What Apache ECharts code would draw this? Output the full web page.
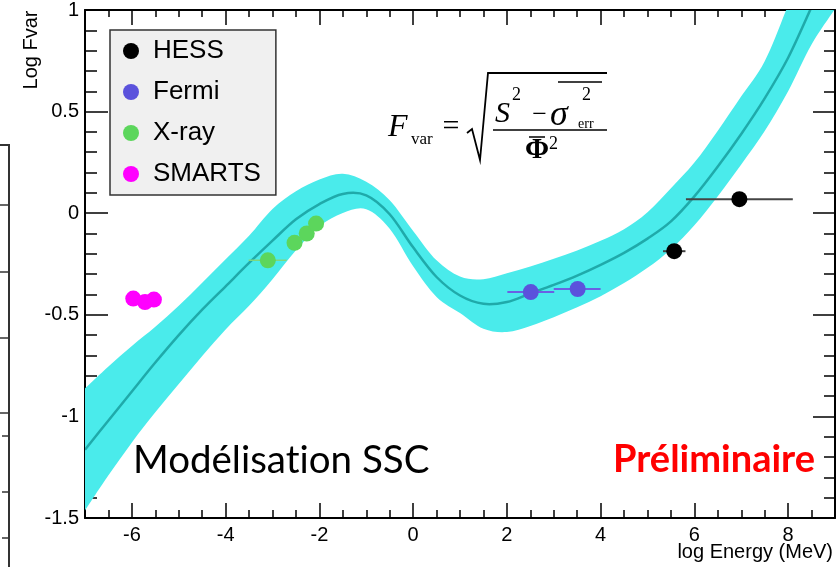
<!DOCTYPE html>
<html>
<head>
<meta charset="utf-8">
<script src="https://cdn.jsdelivr.net/npm/echarts@6/dist/echarts.min.js"></script>
<style>
  html, body { margin: 0; padding: 0; background: #fff; }
  #chart { width: 837px; height: 567px; }
</style>
</head>
<body>
<div id="chart"></div>
<script>
// SSC model band: log Energy (MeV) sampling, lower / upper envelope and central curve (log Fvar)
const bandX    = [-7, -6.5, -6, -5.5, -5, -4.5, -4, -3.5, -3, -2.5, -2, -1.5, -1, -0.5, 0, 0.5, 1, 1.5, 2, 2.5, 3, 3.5, 4, 4.5, 5, 5.5, 6, 6.5, 7, 7.5, 8, 8.5, 9];
const bandLow  = [-1.463, -1.290, -1.128, -0.980, -0.841, -0.703, -0.572, -0.456, -0.325, -0.182, -0.065, 0.001, 0.020, -0.076, -0.261, -0.412, -0.491, -0.569, -0.585, -0.555, -0.512, -0.463, -0.409, -0.344, -0.269, -0.177, -0.059, 0.084, 0.240, 0.404, 0.600, 0.830, 1.005];
const bandHigh = [-0.862, -0.754, -0.653, -0.559, -0.455, -0.342, -0.227, -0.111, 0.021, 0.108, 0.166, 0.194, 0.155, 0.064, -0.087, -0.232, -0.312, -0.325, -0.296, -0.262, -0.224, -0.183, -0.136, -0.079, 0.005, 0.123, 0.249, 0.406, 0.575, 0.748, 1.025, 1.33, 1.65];
const modelX   = [-7, -6.5, -6, -5.5, -5, -4.5, -4, -3.5, -3, -2.5, -2, -1.5, -1, -0.5, 0, 0.5, 1, 1.5, 2, 2.5, 3, 3.5, 4, 4.5, 5, 5.5, 6, 6.5, 7, 7.5, 8, 8.5];
const modelY   = [-1.164, -1.020, -0.877, -0.735, -0.600, -0.475, -0.360, -0.245, -0.135, -0.030, 0.045, 0.095, 0.088, -0.005, -0.168, -0.314, -0.405, -0.446, -0.437, -0.395, -0.353, -0.307, -0.254, -0.195, -0.125, -0.040, 0.083, 0.230, 0.390, 0.565, 0.765, 1.015];

// Measured variability per instrument: energy, log Fvar, energy bin edges
const hessE   = [5.57, 6.96];
const hessF   = [-0.187, 0.069];
const hessLo  = [5.33, 5.82];
const hessHi  = [5.81, 8.10];

const fermiE  = [2.51, 3.51];
const fermiF  = [-0.388, -0.373];
const fermiLo = [2.01, 3.00];
const fermiHi = [3.01, 4.00];

const xrayE   = [-3.10, -2.53, -2.27, -2.07];
const xrayF   = [-0.232, -0.146, -0.100, -0.051];
const xrayLo  = [-3.51, -2.53, -2.27, -2.07];
const xrayHi  = [-2.70, -2.53, -2.27, -2.07];

const smartsE = [-5.97, -5.72, -5.53];
const smartsF = [-0.420, -0.437, -0.425];

// Axis ranges and ticks
const xRange = [-7, 9];
const yRange = [-1.5, 1];
const yStep = 0.5;

const sans = 'Liberation Sans, Arial, Helvetica, sans-serif';
const serif = 'Liberation Serif, Times New Roman, Times, serif';
const display = 'Lato, Noto Sans, sans-serif';

const pairs = (xs, ys) => xs.map((x, i) => [x, ys[i]]);
const bars = (lo, hi, ys) => lo.map((l, i) => [l, hi[i], ys[i]]);

// Smooth cubic segments through pixel points (Catmull-Rom as Bezier)
function curveSegments(pts) {
  const n = pts.length;
  const f = v => v.toFixed(2);
  let d = '';
  for (let i = 0; i < n - 1; i++) {
    const p0 = pts[Math.max(i - 1, 0)], p1 = pts[i], p2 = pts[i + 1], p3 = pts[Math.min(i + 2, n - 1)];
    const c1 = [p1[0] + (p2[0] - p0[0]) / 6, p1[1] + (p2[1] - p0[1]) / 6];
    const c2 = [p2[0] - (p3[0] - p1[0]) / 6, p2[1] - (p3[1] - p1[1]) / 6];
    d += ' C' + f(c1[0]) + ' ' + f(c1[1]) + ' ' + f(c2[0]) + ' ' + f(c2[1]) + ' ' + f(p2[0]) + ' ' + f(p2[1]);
  }
  return d;
}

function clipRect(params) {
  const cs = params.coordSys;
  return { type: 'rect', shape: { x: cs.x, y: cs.y, width: cs.width, height: cs.height } };
}

function bandSeries() {
  return {
    type: 'custom', name: 'band', silent: true, clip: true, z: 1,
    data: bandX.map((x, i) => [x, bandLow[i], bandHigh[i]]),
    encode: { x: 0, y: [1, 2] },
    renderItem: function (params, api) {
      if (params.dataIndex !== 0) return null;
      const up = bandX.map((x, i) => api.coord([x, bandHigh[i]]));
      const lo = bandX.map((x, i) => api.coord([x, bandLow[i]])).reverse();
      const d = 'M' + up[0][0].toFixed(2) + ' ' + up[0][1].toFixed(2) + curveSegments(up) +
                ' L' + lo[0][0].toFixed(2) + ' ' + lo[0][1].toFixed(2) + curveSegments(lo) + ' Z';
      return {
        type: 'path', shape: { pathData: d },
        clipPath: clipRect(params),
        style: { fill: '#4aebeb', stroke: null }
      };
    }
  };
}

function modelSeries() {
  return {
    type: 'custom', name: 'model', silent: true, clip: true, z: 2,
    data: pairs(modelX, modelY),
    encode: { x: 0, y: 1 },
    renderItem: function (params, api) {
      if (params.dataIndex !== 0) return null;
      const pts = modelX.map((x, i) => api.coord([x, modelY[i]]));
      const d = 'M' + pts[0][0].toFixed(2) + ' ' + pts[0][1].toFixed(2) + curveSegments(pts);
      return {
        type: 'path', shape: { pathData: d },
        clipPath: clipRect(params),
        style: { fill: null, stroke: '#1faaaa', lineWidth: 2.5 }
      };
    }
  };
}

function errorBarSeries(name, data, color, width) {
  return {
    type: 'custom',
    name: name + ' bins',
    silent: true,
    z: 3,
    encode: { x: [0, 1], y: 2 },
    data: data,
    renderItem: function (params, api) {
      const a = api.coord([api.value(0), api.value(2)]);
      const b = api.coord([api.value(1), api.value(2)]);
      return {
        type: 'line',
        shape: { x1: a[0], y1: a[1], x2: b[0], y2: b[1] },
        style: { stroke: color, lineWidth: width }
      };
    }
  };
}

function pointSeries(name, data, color) {
  return {
    type: 'scatter',
    name: name,
    data: data,
    symbol: 'circle',
    symbolSize: 16,
    z: 5,
    itemStyle: { color: color, opacity: 1 }
  };
}

function xAxisDef(pos, showLabel, majorLen, minorLen) {
  return {
    type: 'value', min: xRange[0], max: xRange[1],
    splitNumber: 8, minInterval: 2, maxInterval: 2,
    position: pos,
    axisLine: { show: true, onZero: false, lineStyle: { color: '#000', width: 2 } },
    axisTick: { show: true, inside: true, length: majorLen, lineStyle: { color: '#000', width: 1.5 } },
    minorTick: { show: true, splitNumber: 4, length: minorLen, lineStyle: { color: '#000', width: 1.5 } },
    axisLabel: { show: showLabel, fontSize: 20, color: '#000', fontFamily: sans, margin: 7,
                 showMinLabel: false, showMaxLabel: false },
    splitLine: { show: false }, minorSplitLine: { show: false }
  };
}

function yAxisDef(pos, showLabel, majorLen, minorLen) {
  return {
    type: 'value', min: yRange[0], max: yRange[1], interval: yStep,
    position: pos,
    axisLine: { show: true, onZero: false, lineStyle: { color: '#000', width: 2 } },
    axisTick: { show: true, inside: true, length: majorLen, lineStyle: { color: '#000', width: 1.5 } },
    minorTick: { show: true, splitNumber: 5, length: minorLen, lineStyle: { color: '#000', width: 1.5 } },
    axisLabel: { show: showLabel, fontSize: 20, color: '#000', fontFamily: sans, margin: 6 },
    splitLine: { show: false }, minorSplitLine: { show: false }
  };
}

// Fvar formula, drawn as text pieces and strokes
function formula() {
  const t = (text, x, y, font, align) => ({
    type: 'text', z: 30,
    style: { text: text, x: x, y: y, font: font, fill: '#000',
             align: align || 'left', verticalAlign: 'middle',
             textAlign: align || 'left', textVerticalAlign: 'middle' }
  });
  const stroke = (pts, w) => ({
    type: 'polyline', z: 30, shape: { points: pts },
    style: { stroke: '#000', lineWidth: w, fill: null }
  });
  return {
    type: 'group',
    children: [
      t('F', 388, 128, 'italic 32px ' + serif),
      t('var', 411, 140, '17px ' + serif),
      t('=', 451, 127, '30px ' + serif, 'center'),
      stroke([[467, 133], [472, 129], [480, 160], [488, 73], [607, 73]], 1.8),
      t('S', 495, 114, 'italic 30px ' + serif),
      t('2', 512, 95, '18px ' + serif),
      t('\u2212', 539.5, 115, '26px ' + serif, 'center'),
      t('\u03c3', 550, 116, 'italic 36px ' + serif),
      stroke([[558, 82], [602, 82]], 1.5),
      t('2', 582, 95, '18px ' + serif),
      t('err', 578, 124, '14px ' + serif),
      stroke([[493, 130], [607, 130]], 1.5),
      t('\u03a6', 537, 151, 'bold 29px ' + serif, 'center'),
      stroke([[529, 137], [545, 137]], 1.5),
      t('2', 549, 144, '18px ' + serif)
    ]
  };
}

// Edge of the neighbouring panel at the far left
function sidePanel() {
  const ticks = [[205, 9], [272, 9], [338, 9], [413, 9], [436, 7], [492, 7], [538, 7]];
  const children = [{
    type: 'polyline', shape: { points: [[0, 145], [9, 145], [9, 567]] },
    style: { stroke: '#333', lineWidth: 2, fill: null }
  }];
  ticks.forEach(([y, len]) => children.push({
    type: 'line', shape: { x1: 9 - len, y1: y, x2: 9, y2: y },
    style: { stroke: '#333', lineWidth: 1.5 }
  }));
  return { type: 'group', children: children };
}

const chart = echarts.init(document.getElementById('chart'), null, { renderer: 'canvas' });

const option = {
  animation: false,
  backgroundColor: '#fff',
  grid: { left: 85, top: 10, right: 2, bottom: 49, containLabel: false, outerBoundsMode: 'none' },
  xAxis: [xAxisDef('bottom', true, 15, 8), xAxisDef('top', false, 15, 7)],
  yAxis: [yAxisDef('left', true, 23, 12), yAxisDef('right', false, 22, 11)],
  legend: {
    data: ['HESS', 'Fermi', 'X-ray', 'SMARTS'],
    orient: 'vertical',
    left: 110, top: 30,
    padding: [8, 15, 8, 13],
    itemGap: 15,
    itemWidth: 16, itemHeight: 16,
    icon: 'circle',
    backgroundColor: '#f0f0f0',
    borderColor: '#333', borderWidth: 1.5,
    selectedMode: false,
    textStyle: { fontSize: 26, fontFamily: sans, color: '#000', padding: [0, 0, 0, 9] }
  },
  series: [
    bandSeries(),
    modelSeries(),
    errorBarSeries('HESS', bars(hessLo, hessHi, hessF), '#444', 2),
    errorBarSeries('Fermi', bars(fermiLo, fermiHi, fermiF), '#6a60e4', 2),
    errorBarSeries('X-ray', bars(xrayLo, xrayHi, xrayF), '#7ed87e', 1.5),
    pointSeries('HESS', pairs(hessE, hessF), '#000000'),
    pointSeries('Fermi', pairs(fermiE, fermiF), '#5b52dc'),
    pointSeries('X-ray', pairs(xrayE, xrayF), '#5cd65c'),
    pointSeries('SMARTS', pairs(smartsE, smartsF), '#ff00ff')
  ],
  graphic: [
    sidePanel(),
    formula(),
    {
      type: 'text', z: 30,
      style: { text: 'Log Fvar', x: 31, y: 50, font: '20px ' + sans, fill: '#000',
               align: 'center', verticalAlign: 'middle', textAlign: 'center', textVerticalAlign: 'middle' },
      rotation: Math.PI / 2, originX: 31, originY: 50
    },
    {
      type: 'text', z: 30,
      style: { text: 'log Energy (MeV)', x: 833, y: 552, font: '20px ' + sans, fill: '#000',
               align: 'right', verticalAlign: 'middle', textAlign: 'right', textVerticalAlign: 'middle' }
    },
    {
      type: 'text', z: 30,
      style: { text: 'Modélisat\u200Cion SSC', x: 133, y: 461, font: '38.5px ' + display, fill: '#000',
               align: 'left', verticalAlign: 'middle', textAlign: 'left', textVerticalAlign: 'middle' }
    },
    {
      type: 'text', z: 30,
      style: { text: 'Préliminaire', x: 815, y: 460, font: 'bold 38px ' + display, fill: '#ff0000',
               align: 'right', verticalAlign: 'middle', textAlign: 'right', textVerticalAlign: 'middle' }
    }
  ]
};

chart.setOption(option);
</script>
</body>
</html>
